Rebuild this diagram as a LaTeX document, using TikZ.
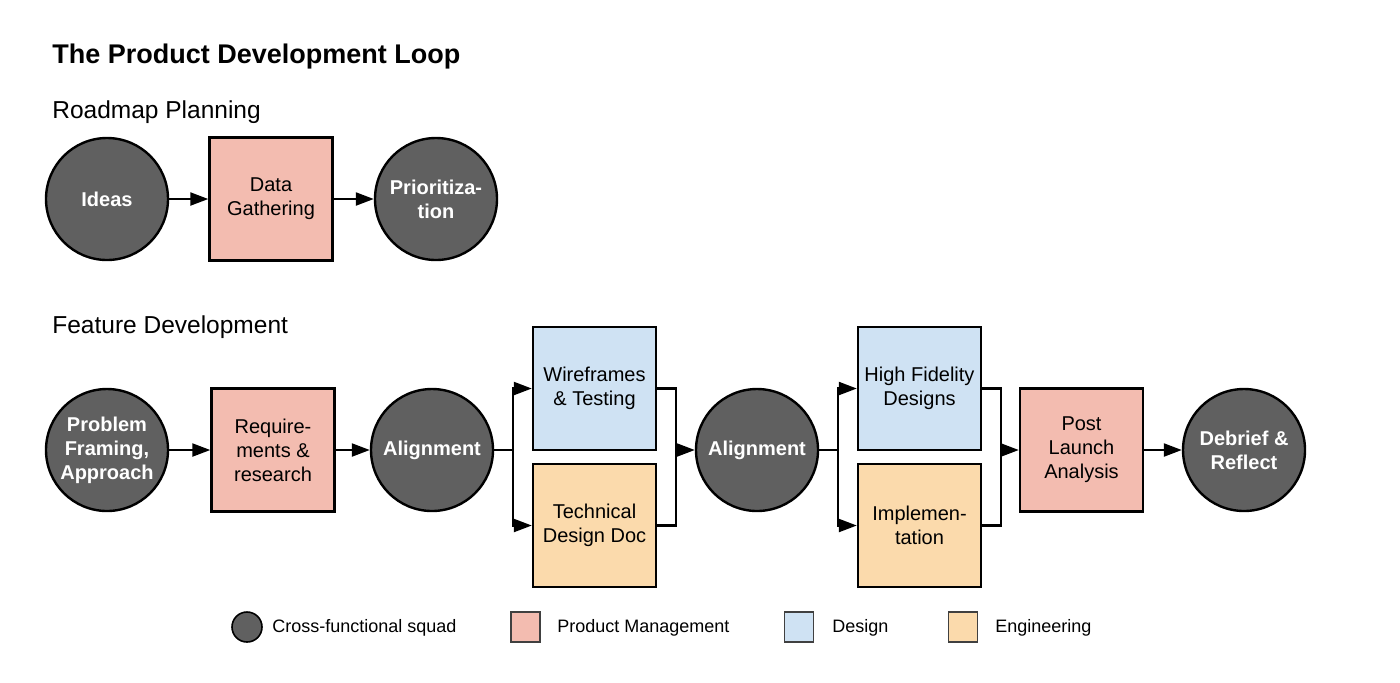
\documentclass[tikz,border=0pt]{standalone}
\usepackage{fontspec}
\setmainfont{Liberation Sans}
\usetikzlibrary{arrows.meta}
\definecolor{squadgray}{RGB}{96,96,96}
\definecolor{pmpink}{RGB}{243,188,176}
\definecolor{designblue}{RGB}{207,226,243}
\definecolor{engpeach}{RGB}{251,218,172}
\begin{document}
\begin{tikzpicture}[x=0.5pt,y=-0.5pt,
  squad/.style={circle, draw=black, line width=1.2pt, fill=squadgray, text=white, minimum size=61pt, inner sep=0pt, align=center, font=\fontsize{10}{12}\selectfont\bfseries},
  stage/.style={rectangle, draw=black, line width=1.2pt, minimum width=61.5pt, minimum height=61.5pt, inner sep=0pt, align=center, font=\fontsize{10}{12}\selectfont},
  pmstage/.style={stage, fill=pmpink},
  designstage/.style={stage, fill=designblue},
  engstage/.style={stage, fill=engpeach},
  flow/.style={line width=1.1pt, -{Triangle[length=9pt,width=6.5pt]}},
  link/.style={line width=1.1pt},
  heading/.style={anchor=base west, inner sep=0pt, font=\fontsize{12.25}{14}\selectfont},
  keydot/.style={circle, draw=black, line width=0.8pt, fill=squadgray, minimum size=15pt, inner sep=0pt},
  keybox/.style={rectangle, draw=black!75, line width=0.7pt, minimum width=14.5pt, minimum height=15pt, inner sep=0pt},
  keytext/.style={anchor=base west, inner sep=0pt, font=\fontsize{9}{11}\selectfont}]
\useasboundingbox (0,0) rectangle (1400,682);

\node[anchor=base west, inner sep=0pt, font=\fontsize{13.5}{16}\selectfont\bfseries] (title) at (52,63) {The Product Development Loop};
\node[heading] (roadmap) at (52,118) {Roadmap Planning};
\node[heading] (feature) at (52,333) {Feature Development};

\node[squad] (ideas) at (107,199) {Ideas};
\node[pmstage] (data) at (271,199) {Data\\Gathering};
\node[squad] (prio) at (436,199) {Prioritiza-\\tion};
\draw[flow] (ideas) -- (data);
\draw[flow] (data) -- (prio);

\node[squad] (problem) at (107,450) {Problem\\Framing,\\Approach};
\node[pmstage] (req) at (273,450) {Require-\\ments \&\\research};
\node[squad] (align1) at (432,450) {Alignment};
\node[designstage] (wire) at (594.5,388.5) {Wireframes\\\& Testing};
\node[engstage] (techdoc) at (594.5,525.5) {Technical\\Design Doc};
\node[squad] (align2) at (757,450) {Alignment};
\node[designstage] (hifi) at (919.5,388.5) {High Fidelity\\Designs};
\node[engstage] (impl) at (919.5,525.5) {Implemen-\\tation};
\node[pmstage] (post) at (1081.5,450) {Post\\Launch\\Analysis};
\node[squad] (debrief) at (1244,450) {Debrief \&\\Reflect};

\coordinate (split1) at (513,450);
\coordinate (merge1) at (676,450);
\coordinate (split2) at (838,450);
\coordinate (merge2) at (1001,450);

\draw[flow] (problem) -- (req);
\draw[flow] (req) -- (align1);
\draw[link] (align1) -- (split1);
\draw[flow] (split1) |- (wire.west);
\draw[flow] (split1) |- (techdoc.west);
\draw[link] (wire.east) -| (merge1);
\draw[link] (techdoc.east) -| (merge1);
\draw[flow] (merge1) -- (align2);
\draw[link] (align2) -- (split2);
\draw[flow] (split2) |- (hifi.west);
\draw[flow] (split2) |- (impl.west);
\draw[link] (hifi.east) -| (merge2);
\draw[link] (impl.east) -| (merge2);
\draw[flow] (merge2) -- (post);
\draw[flow] (post) -- (debrief);

\node[keydot] (keysquad) at (247,627) {};
\node[keytext] (keysquadtext) at (272,632) {Cross-functional squad};
\node[keybox, fill=pmpink] (keypm) at (525.5,627) {};
\node[keytext] (keypmtext) at (557,632) {Product Management};
\node[keybox, fill=designblue] (keydesign) at (799,627) {};
\node[keytext] (keydesigntext) at (832,632) {Design};
\node[keybox, fill=engpeach] (keyeng) at (963,627) {};
\node[keytext] (keyengtext) at (995,632) {Engineering};
\end{tikzpicture}
\end{document}
